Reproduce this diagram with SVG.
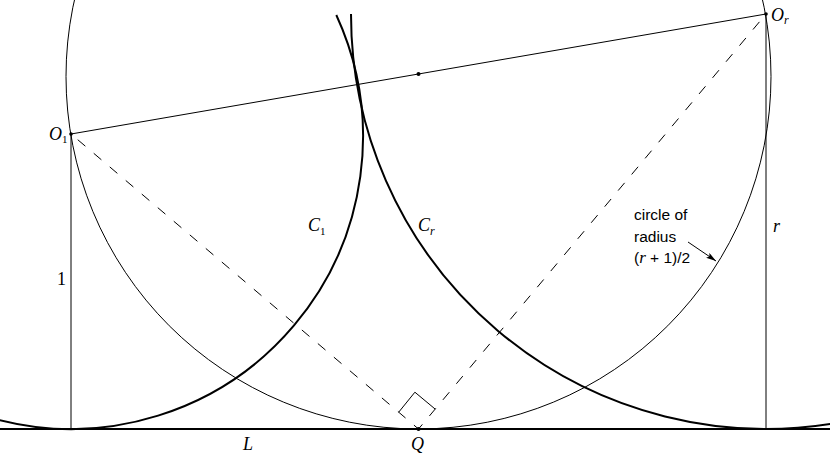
<svg xmlns="http://www.w3.org/2000/svg" width="830" height="454" viewBox="0 0 830 454">
<style>
.thin{fill:none;stroke:#000;stroke-width:1}
.thick{fill:none;stroke:#000;stroke-width:2}
.dash{fill:none;stroke:#000;stroke-width:1;stroke-dasharray:10 11;stroke-dashoffset:4}
.lab{font-family:"Liberation Serif",serif;font-style:italic;font-size:18px;fill:#000}
.sub{font-family:"Liberation Serif",serif;font-style:normal;font-size:11px;fill:#000}
.subi{font-family:"Liberation Serif",serif;font-style:italic;font-size:12px;fill:#000}
.num{font-family:"Liberation Serif",serif;font-size:18px;fill:#000}
.note{font-family:"Liberation Sans",sans-serif;font-size:15.5px;fill:#000}
</style>
<defs>
<marker id="ah" viewBox="0 0 10 6" refX="10" refY="3" markerWidth="10" markerHeight="6" markerUnits="userSpaceOnUse" orient="auto">
<path d="M0,0 L10,3 L0,6 L2,3 Z" fill="#000"/>
</marker>
</defs>
<rect width="830" height="454" fill="#fff"/>
<g id="connectors">
<circle class="thin" cx="418.5" cy="76.5" r="352.5"/>
<line class="thin" x1="71" y1="134" x2="766" y2="14"/>
<line class="thin" x1="71" y1="134" x2="71" y2="429"/>
<line class="thin" x1="766" y1="14" x2="766" y2="429"/>
<path class="dash" d="M418.5,429 L71,134"/>
<path class="dash" d="M418.5,429 L766,14"/>
<polyline class="thin" points="398.7,412.2 414.9,392.2 435.2,409.1"/>
<line class="thin" x1="688" y1="242" x2="716" y2="261" marker-end="url(#ah)"/>
</g>
<g id="C1"><path class="thick" d="M336.3,15 A292,292 0 0 1 -5,418.9"/>
<text class="lab" x="308" y="231">C<tspan class="sub" dy="4">1</tspan></text></g>
<g id="Cr"><path class="thick" d="M351,14 A415,415 0 0 0 835,423.2"/>
<text class="lab" x="418" y="231">C<tspan class="subi" dy="4">r</tspan></text></g>
<g id="L"><line x1="0" y1="429" x2="830" y2="429" stroke="#000" stroke-width="2"/>
<text class="lab" x="243" y="450">L</text></g>
<g id="Q"><circle cx="418.5" cy="429" r="2" fill="#000"/>
<text class="lab" x="411" y="450">Q</text></g>
<g id="O1"><circle cx="71" cy="134" r="1.8" fill="#000"/>
<text class="lab" x="49" y="140">O<tspan class="sub" dy="3">1</tspan></text></g>
<g id="Or"><circle cx="766" cy="14" r="1.8" fill="#000"/>
<text class="lab" x="771" y="21">O<tspan class="subi" dy="3">r</tspan></text></g>
<g id="mid"><circle cx="418.5" cy="74" r="2" fill="#000"/></g>
<g id="labels">
<text class="num" x="57" y="285">1</text>
<text class="lab" x="773" y="232">r</text>
<text class="note" x="634" y="220">circle of</text>
<text class="note" x="634" y="242">radius</text>
<text class="note" x="634" y="263">(<tspan font-family="Liberation Serif" font-style="italic" font-size="17px">r</tspan> + 1)/2</text>
</g>
</svg>
